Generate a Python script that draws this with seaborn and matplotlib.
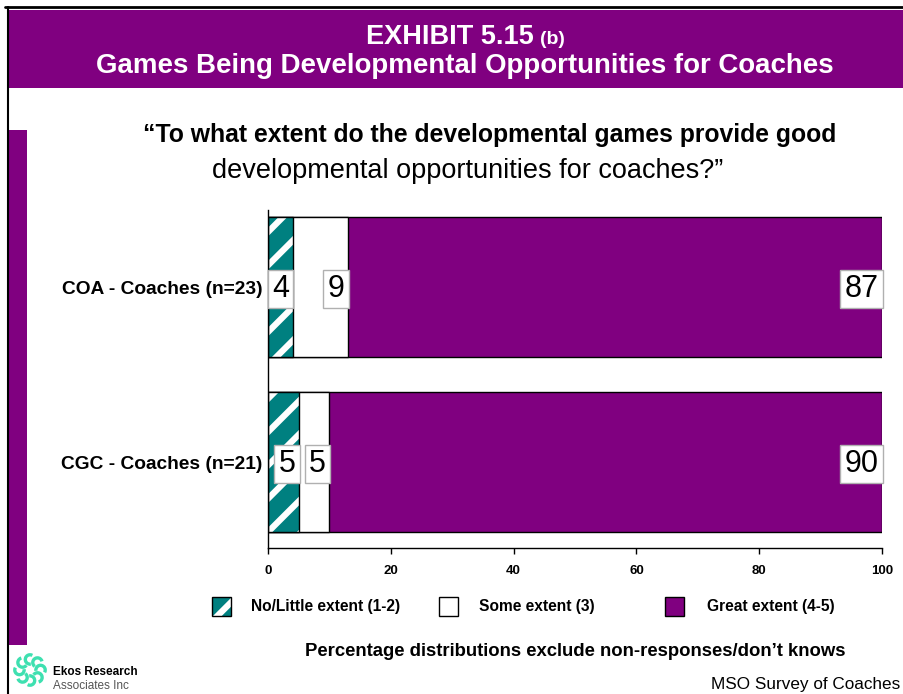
import numpy as np
import pandas as pd
import matplotlib
matplotlib.use("Agg")
import matplotlib.pyplot as plt
from matplotlib.patches import Rectangle, Arc
from matplotlib.lines import Line2D
import seaborn as sns

# Survey results (percent of respondents)
groups = ["COA - Coaches (n=23)", "CGC - Coaches (n=21)"]
little = [4, 5]      # No/Little extent (1-2)
some = [9, 5]        # Some extent (3)
great = [87, 90]     # Great extent (4-5)
legend_labels = ["No/Little extent (1-2)", "Some extent (3)", "Great extent (4-5)"]
x_ticks = [0, 20, 40, 60, 80, 100]

TEAL = "#008080"
PURPLE = "#800080"

sns.set_theme(style="white")
plt.rcParams["font.family"] = ["Liberation Sans", "DejaVu Sans"]
plt.rcParams["hatch.linewidth"] = 4.5
for key in ["text.color", "axes.labelcolor", "xtick.color", "ytick.color"]:
    plt.rcParams[key] = "black"

df = pd.DataFrame({"group": groups, "little": little, "some": some, "great": great})
df["cum_little"] = df["little"]
df["cum_some"] = df["little"] + df["some"]
df["cum_great"] = df["little"] + df["some"] + df["great"]

fig = plt.figure(figsize=(9.04, 6.94), dpi=100)
ax = fig.add_axes([268 / 904, 1 - 548 / 694, (882 - 268) / 904, (548 - 210) / 694])

# Stacked bars drawn back to front from cumulative totals
sns.barplot(data=df, y="group", x="cum_great", color=PURPLE, saturation=1,
            edgecolor="black", linewidth=1, orient="h", ax=ax, width=0.8)
sns.barplot(data=df, y="group", x="cum_some", color="white", saturation=1,
            edgecolor="black", linewidth=1, orient="h", ax=ax, width=0.8)
sns.barplot(data=df, y="group", x="cum_little", color=TEAL, saturation=1,
            edgecolor="white", linewidth=0, orient="h", ax=ax, width=0.8)

n = len(groups)
teal_patches = ax.patches[2 * n:3 * n]
for p in teal_patches:
    p.set_hatch("/")
    p.set_edgecolor("white")
    outline = Rectangle(p.get_xy(), p.get_width(), p.get_height(), fill=False,
                        edgecolor="black", linewidth=1, zorder=p.get_zorder() + 0.1)
    ax.add_patch(outline)

# Value labels sit at the right end of each segment
box = dict(boxstyle="square,pad=0.14", facecolor="white", edgecolor="#b0b0b0", linewidth=1)
for i in range(n):
    ends = [df["cum_little"][i], df["cum_some"][i], df["cum_great"][i]]
    vals = [little[i], some[i], great[i]]
    for end, v in zip(ends, vals):
        ax.text(end - 0.55, i + 0.01, f"{v}", ha="right", va="center", fontsize=22,
                color="black", bbox=box, zorder=10)

ax.set_xlim(0, 100)
ax.set_ylim(1.49, -0.44)
ax.set_xticks(x_ticks)
ax.set_xticklabels([str(t) for t in x_ticks], fontsize=9.5, fontweight="bold")
ax.tick_params(axis="x", length=4, width=1, color="black", direction="out", pad=8, bottom=True)
ax.tick_params(axis="y", length=0, pad=4)
for lab in ax.get_yticklabels():
    lab.set_fontsize(13.8)
    lab.set_fontweight("bold")
ax.set_xlabel("")
ax.set_ylabel("")
for s in ["top", "right"]:
    ax.spines[s].set_visible(False)
for s in ["left", "bottom"]:
    ax.spines[s].set_color("black")
    ax.spines[s].set_linewidth(1)

# Page frame and title band
W, H = 904, 694
def fx(px):
    return px / W
def fy(py):
    return 1 - py / H

fig.add_artist(Line2D([fx(5), 1], [fy(7), fy(7)], color="black", lw=2))
fig.add_artist(Line2D([fx(8), fx(8)], [fy(7), 0], color="black", lw=1.5))
fig.add_artist(Rectangle((fx(9), fy(88)), 1 - fx(9), fy(10) - fy(88), facecolor=PURPLE,
                         edgecolor="none"))
fig.add_artist(Rectangle((fx(9), fy(645)), fx(27) - fx(9), fy(130) - fy(645), facecolor=PURPLE,
                         edgecolor="none"))

fig.text(fx(534), fy(37), "EXHIBIT 5.15", ha="right", va="center", color="white",
         fontsize=19.5, fontweight="bold")
fig.text(fx(540), fy(39), "(b)", ha="left", va="center", color="white",
         fontsize=14, fontweight="bold")
fig.text(fx(465), fy(66), "Games Being Developmental Opportunities for Coaches",
         ha="center", va="center", color="white", fontsize=19.9, fontweight="bold")

# Question text
fig.text(fx(490), fy(135), "\u201cTo what extent do the developmental games provide good",
         ha="center", va="center", color="black", fontsize=17.8, fontweight="bold",
         family=["Liberation Sans Narrow", "Liberation Sans", "DejaVu Sans"])
fig.text(fx(468), fy(171), "developmental opportunities for coaches?\u201d",
         ha="center", va="center", color="black", fontsize=19.5)

# Legend
legend_y = fy(607)
hp = Rectangle((fx(212), legend_y - 9 / H), 19 / W, 19 / H, facecolor=TEAL, edgecolor="white",
               hatch="/", linewidth=0)
fig.add_artist(hp)
fig.add_artist(Rectangle((fx(212), legend_y - 9 / H), 19 / W, 19 / H, fill=False,
                         edgecolor="black", linewidth=1))
fig.add_artist(Rectangle((fx(439), legend_y - 9 / H), 19 / W, 19 / H, facecolor="white",
                         edgecolor="black", linewidth=1))
fig.add_artist(Rectangle((fx(665), legend_y - 9 / H), 19 / W, 19 / H, facecolor=PURPLE,
                         edgecolor="black", linewidth=1))
for xp, lab in zip([251, 479, 707], legend_labels):
    fig.text(fx(xp), legend_y, lab, ha="left", va="center", fontsize=11.2, fontweight="bold")

fig.text(fx(575), fy(651), "Percentage distributions exclude non-responses/don\u2019t knows",
         ha="center", va="center", fontsize=13.3, fontweight="bold",
         family=["Liberation Sans Narrow", "Liberation Sans", "DejaVu Sans"])
fig.text(fx(900), fy(684), "MSO Survey of Coaches", ha="right", va="center", fontsize=12.3)

# Logo: ring of small swirls
lax = fig.add_axes([fx(13), fy(687), 34 / W, 34 / H])
lax.set_xlim(-1, 1)
lax.set_ylim(-1, 1)
lax.set_aspect("equal")
lax.axis("off")
for k in range(8):
    a = 2 * np.pi * k / 8
    cx, cy = 0.62 * np.cos(a), 0.62 * np.sin(a)
    lax.add_patch(Arc((cx, cy), 0.55, 0.55, angle=np.degrees(a), theta1=-30, theta2=190,
                      color="#3ee0b0", lw=2.4))
fig.text(fx(53), fy(672), "Ekos Research", ha="left", va="center", fontsize=8.5,
         fontweight="bold")
fig.text(fx(53), fy(686), "Associates Inc", ha="left", va="center", fontsize=8.5,
         color="#555555")

fig.savefig("out.png", dpi=100)
